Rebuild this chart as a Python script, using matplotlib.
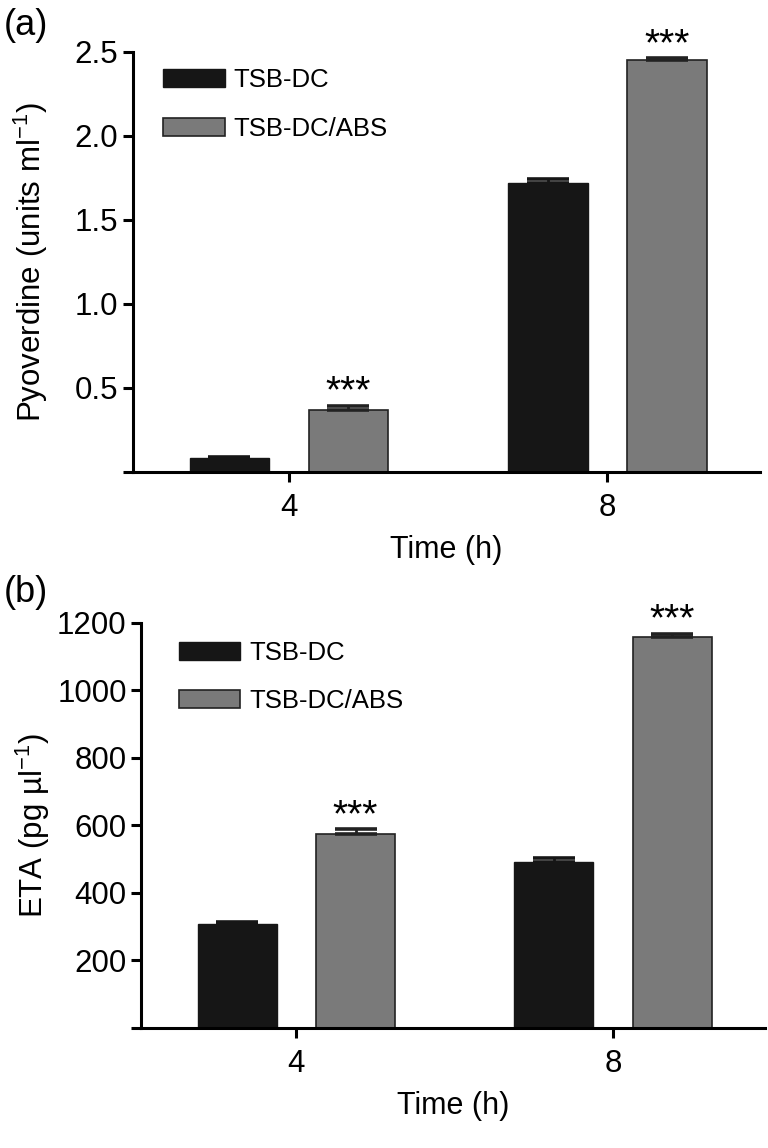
import numpy as np
import matplotlib.pyplot as plt

plt.rcParams['font.family'] = ['Liberation Sans', 'DejaVu Sans']

times = ['4', '8']
series = ['TSB-DC', 'TSB-DC/ABS']

pyo_dc = [0.084, 1.72]
pyo_dc_err = [0.005, 0.02]
pyo_abs = [0.37, 2.45]
pyo_abs_err = [0.02, 0.01]

eta_dc = [307, 493]
eta_dc_err = [6, 10]
eta_abs = [575, 1157]
eta_abs_err = [13, 11]

black = '#161616'
grey = '#7a7a7a'

fig = plt.figure(figsize=(7.68, 11.48), dpi=100)


def panel(ax, dc, dc_err, ab, ab_err, ylim, yticks, ylabels, ylabel, lpad, leg_xy):
    x = np.arange(len(times))
    off = 0.187
    w = 0.25
    ax.bar(x - off, dc, w, color=black, edgecolor=black, linewidth=1, zorder=2)
    ax.bar(x + off, ab, w, color=grey, edgecolor='#222222', linewidth=1.2, zorder=2)
    ax.errorbar(x - off, dc, yerr=[np.zeros(2), dc_err], fmt='none', ecolor=black,
                elinewidth=2, capsize=15, capthick=2.6, zorder=3)
    ax.errorbar(x + off, ab, yerr=[np.zeros(2), ab_err], fmt='none', ecolor='#222222',
                elinewidth=2, capsize=15, capthick=2.6, zorder=3)
    for xi, yi, ei in zip(x + off, ab, ab_err):
        ax.annotate('***', (xi, yi + ei), xytext=(0, 2.5), textcoords='offset points',
                    ha='center', va='baseline', fontsize=28)
    ax.set_ylim(*ylim)
    ax.set_xlim(-0.49, 1.48)
    ax.set_yticks(yticks)
    ax.set_yticklabels(ylabels)
    ax.set_xticks(x)
    ax.set_xticklabels(times)
    for s in ['top', 'right']:
        ax.spines[s].set_visible(False)
    for s in ['left', 'bottom']:
        ax.spines[s].set_linewidth(2.2)
    ax.tick_params(axis='both', labelsize=22.5, width=2.2, length=7)
    ax.tick_params(axis='x', pad=8)
    ax.set_ylabel(ylabel, fontsize=22.5, labelpad=lpad)
    ax.set_xlabel('Time (h)', fontsize=22, labelpad=9)
    ax.legend(series, loc='upper left', bbox_to_anchor=leg_xy, frameon=False,
              fontsize=18.5, handlelength=2.4, handleheight=0.7, handletextpad=0.35,
              labelspacing=0.95, borderpad=0, borderaxespad=0)


ax1 = fig.add_axes([0.173, 0.589, 0.817, 0.366])
panel(ax1, pyo_dc, pyo_dc_err, pyo_abs, pyo_abs_err, (0, 2.5),
      [0, 0.5, 1.0, 1.5, 2.0, 2.5], ['', '0.5', '1.0', '1.5', '2.0', '2.5'],
      'Pyoverdine (units ml$^{\\mathregular{-1}}$)', 18, (0.048, 0.96))

ax2 = fig.add_axes([0.184, 0.1045, 0.812, 0.353])
panel(ax2, eta_dc, eta_dc_err, eta_abs, eta_abs_err, (0, 1200),
      [0, 200, 400, 600, 800, 1000, 1200], ['', '200', '400', '600', '800', '1000', '1200'],
      'ETA (pg µl$^{\\mathregular{-1}}$)', 4, (0.06, 0.955))

fig.text(0.005, 0.993, '(a)', fontsize=26, ha='left', va='top')
fig.text(0.005, 0.499, '(b)', fontsize=26, ha='left', va='top')

fig.savefig('out.png', dpi=100)
